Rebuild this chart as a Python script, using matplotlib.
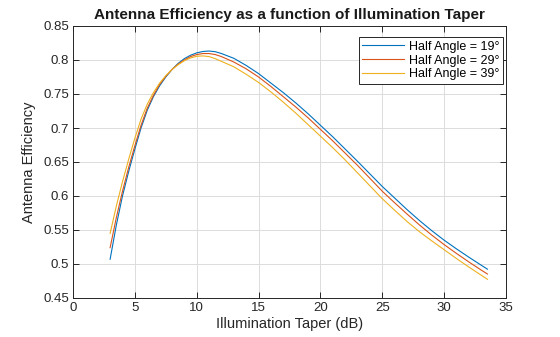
import matplotlib
matplotlib.use("Agg")
import matplotlib.pyplot as plt

plt.rcParams['font.family'] = ['Liberation Sans', 'DejaVu Sans']

taper_db = [3, 3.5, 4, 4.5, 5, 5.5, 6, 6.5, 7, 7.5, 8, 8.5, 9, 9.5, 10, 10.5,
            11, 11.5, 12, 13, 14, 15, 16, 17, 18, 19, 20, 21, 22, 23, 24, 25,
            26, 27, 28, 29, 30, 31, 32, 33, 33.5]

eff_19 = [0.507, 0.557, 0.600, 0.636, 0.669, 0.700, 0.726, 0.746, 0.762, 0.775,
          0.786, 0.795, 0.802, 0.807, 0.8105, 0.8125, 0.8132, 0.8122, 0.8095, 0.8025,
          0.792, 0.780, 0.766, 0.752, 0.737, 0.721, 0.704, 0.687, 0.669, 0.651,
          0.6325, 0.614, 0.597, 0.580, 0.564, 0.549, 0.535, 0.5222, 0.510, 0.4982,
          0.4924]

eff_29 = [0.524, 0.568, 0.607, 0.642, 0.674, 0.704, 0.729, 0.748, 0.764, 0.776,
          0.786, 0.794, 0.800, 0.805, 0.808, 0.8095, 0.8095, 0.808, 0.805, 0.797,
          0.787, 0.775, 0.761, 0.746, 0.731, 0.715, 0.698, 0.681, 0.663, 0.645,
          0.626, 0.607, 0.590, 0.5735, 0.5575, 0.5425, 0.5285, 0.5155, 0.503, 0.491,
          0.4853]

eff_39 = [0.545, 0.585, 0.621, 0.654, 0.685, 0.713, 0.735, 0.752, 0.766, 0.777,
          0.786, 0.793, 0.799, 0.803, 0.8055, 0.806, 0.805, 0.802, 0.798, 0.790,
          0.779, 0.767, 0.753, 0.738, 0.722, 0.705, 0.688, 0.671, 0.653, 0.634,
          0.615, 0.596, 0.579, 0.5625, 0.5475, 0.534, 0.521, 0.508, 0.4955, 0.4835,
          0.4775]

labels = ['Half Angle = 19°', 'Half Angle = 29°', 'Half Angle = 39°']
colors = ['#0072BD', '#D95319', '#EDB120']

x_ticks = [0, 5, 10, 15, 20, 25, 30, 35]
y_ticks = [0.45, 0.5, 0.55, 0.6, 0.65, 0.7, 0.75, 0.8, 0.85]
y_ticklabels = ['0.45', '0.5', '0.55', '0.6', '0.65', '0.7', '0.75', '0.8', '0.85']

fig = plt.figure(figsize=(5.6, 3.37), dpi=100)
ax = fig.add_axes([73/560, 1 - 298/337, (506 - 73)/560, (298 - 26)/337])

for y, lab, c in zip([eff_19, eff_29, eff_39], labels, colors):
    ax.plot(taper_db, y, color=c, lw=0.8, label=lab)

ax.set_xlim(0, 35)
ax.set_ylim(0.45, 0.85)
ax.set_xticks(x_ticks)
ax.set_yticks(y_ticks)
ax.set_yticklabels(y_ticklabels)
ax.grid(True, color='#dcdcdc', lw=0.7)
ax.set_axisbelow(True)
for s in ax.spines.values():
    s.set_color('#262626')
    s.set_linewidth(0.7)
ax.tick_params(direction='in', top=True, right=True, length=4, width=0.7,
               colors='#262626', labelsize=9.5, pad=3)

ax.set_xlabel('Illumination Taper (dB)', fontsize=10.5, color='#262626', labelpad=2)
ax.set_ylabel('Antenna Efficiency', fontsize=10.5, color='#262626', labelpad=5)
ax.set_title('Antenna Efficiency as a function of Illumination Taper',
             fontsize=11, fontweight='bold', color='#1a1a1a', pad=5)

leg = ax.legend(loc='upper right', bbox_to_anchor=(0.993, 0.9596), borderaxespad=0,
                fontsize=9, frameon=True, fancybox=False, edgecolor='#262626',
                framealpha=1, handlelength=3.3, handletextpad=0.4,
                labelspacing=0.15, borderpad=0.3)
leg.get_frame().set_linewidth(0.7)

fig.savefig('out.png', dpi=100)
